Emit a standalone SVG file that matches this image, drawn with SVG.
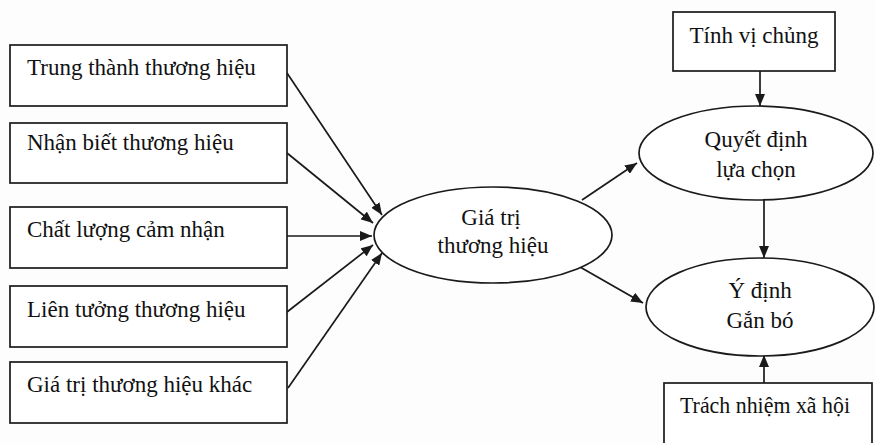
<svg xmlns="http://www.w3.org/2000/svg" width="875" height="443" viewBox="0 0 875 443">
<defs>
<marker id="ah" markerWidth="12" markerHeight="10" refX="12" refY="5" orient="auto" markerUnits="userSpaceOnUse">
<path d="M0,0 L12,5 L0,10 Z" fill="#1a1a1a"/>
</marker>
<style>
.box{fill:#fff;stroke:#1a1a1a;stroke-width:1.7}
.ell{fill:#fff;stroke:#1a1a1a;stroke-width:1.7}
.t{font-family:"Liberation Serif","Times New Roman",serif;font-size:23px;fill:#111}
.c{text-anchor:middle}
.ln{stroke:#1a1a1a;stroke-width:1.7;fill:none;marker-end:url(#ah)}
</style>
</defs>
<rect width="875" height="443" fill="#fdfdfd"/>
<g id="connectors">
<line class="ln" x1="287" y1="73" x2="382" y2="215"/>
<line class="ln" x1="287" y1="153" x2="373" y2="223"/>
<line class="ln" x1="287" y1="236" x2="372" y2="236"/>
<line class="ln" x1="287" y1="312" x2="373" y2="245"/>
<line class="ln" x1="288" y1="388" x2="382" y2="253"/>
<line class="ln" x1="582" y1="200" x2="637" y2="163"/>
<line class="ln" x1="580" y1="267" x2="643" y2="303"/>
<line class="ln" x1="760" y1="71" x2="760" y2="106"/>
<line class="ln" x1="764" y1="200" x2="764" y2="258"/>
<line class="ln" x1="764" y1="383" x2="764" y2="355"/>
</g>
<g id="n1"><rect class="box" x="10" y="45" width="277" height="61"/><text class="t" x="27" y="75">Trung thành thương hiệu</text></g>
<g id="n2"><rect class="box" x="10" y="123" width="277" height="60"/><text class="t" x="27" y="150">Nhận biết thương hiệu</text></g>
<g id="n3"><rect class="box" x="10" y="207" width="277" height="61"/><text class="t" x="27" y="237">Chất lượng cảm nhận</text></g>
<g id="n4"><rect class="box" x="10" y="286" width="277" height="61"/><text class="t" x="27" y="317">Liên tưởng thương hiệu</text></g>
<g id="n5"><rect class="box" x="10" y="362" width="277" height="61"/><text class="t" x="27" y="392">Giá trị thương hiệu khác</text></g>
<g id="gtth"><ellipse class="ell" cx="493" cy="235" rx="119" ry="48"/><text class="t c" x="491" y="225">Giá trị</text><text class="t c" x="493" y="253">thương hiệu</text></g>
<g id="tvc"><rect class="box" x="673" y="12" width="162" height="59"/><text class="t c" x="754" y="43">Tính vị chủng</text></g>
<g id="qd"><ellipse class="ell" cx="756" cy="153" rx="117" ry="47"/><text class="t c" x="756" y="147">Quyết định</text><text class="t c" x="756" y="177">lựa chọn</text></g>
<g id="yd"><ellipse class="ell" cx="760" cy="307" rx="114" ry="49"/><text class="t c" x="760" y="298">Ý định</text><text class="t c" x="760" y="328">Gắn bó</text></g>
<g id="tnxh"><rect class="box" x="664" y="383" width="208" height="70"/><text class="t" x="680" y="413" textLength="170" lengthAdjust="spacingAndGlyphs">Trách nhiệm xã hội</text></g>
</svg>
